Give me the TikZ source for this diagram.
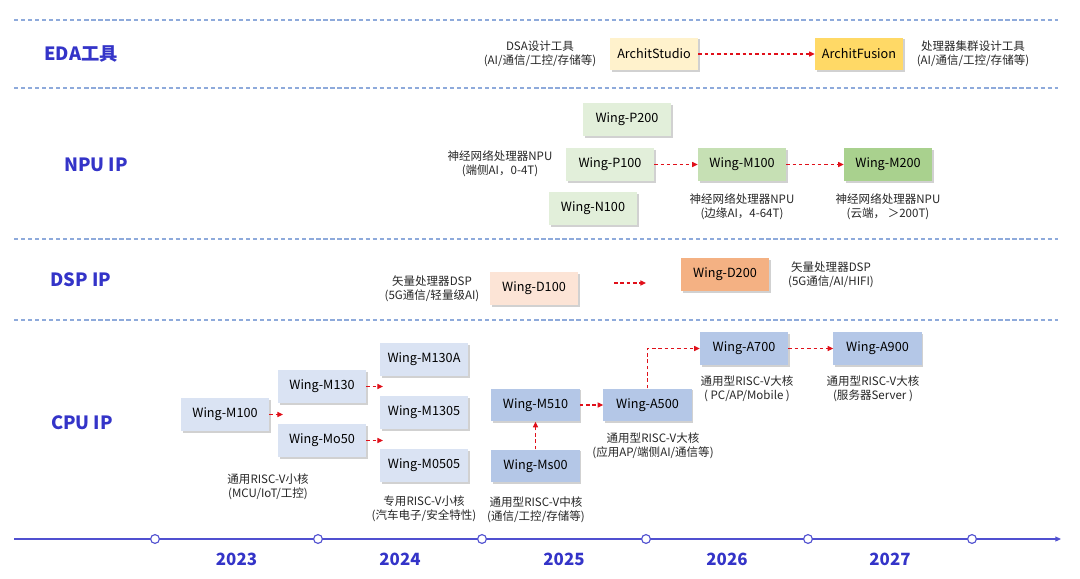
\documentclass[tikz,border=0pt]{standalone}
\usepackage{fontspec}
\setmainfont{Noto Sans CJK SC}
\usepackage{xcolor}
\usetikzlibrary{arrows.meta, positioning, shadows, calc}

\definecolor{lanetext}{HTML}{3434C8}
\definecolor{lanerule}{HTML}{8EAADB}
\definecolor{flowred}{HTML}{E0101A}
\definecolor{edaA}{HTML}{FFF2CC}
\definecolor{edaB}{HTML}{FFD966}
\definecolor{npuA}{HTML}{E2EFDA}
\definecolor{npuB}{HTML}{C6E0B4}
\definecolor{npuC}{HTML}{A9D18E}
\definecolor{dspA}{HTML}{FCE4D6}
\definecolor{dspB}{HTML}{F4B183}
\definecolor{cpuA}{HTML}{DAE3F3}
\definecolor{cpuB}{HTML}{B4C7E7}
\definecolor{axisblue}{HTML}{5050D0}

\begin{document}
\begin{tikzpicture}[
    x=0.025cm, y=-0.025cm,
    chip/.style={minimum width=2.2cm, minimum height=0.82cm, inner sep=0pt,
      font=\fontsize{9}{11}\selectfont,
      drop shadow={shadow xshift=1.2pt, shadow yshift=-1.2pt, fill=black!40, opacity=0.45}},
    flow/.style={-{Triangle[length=4pt, width=3.6pt]}, flowred, thick, dash pattern=on 2.5pt off 2pt},
    note/.style={font=\fontsize{8.2}{10}\selectfont, align=center, text=black!85, inner sep=0pt},
    lane/.style={font=\fontsize{13}{15}\selectfont\bfseries, text=lanetext},
    rule/.style={lanerule, thick, dash pattern=on 3pt off 2pt},
    tick/.style={circle, draw=axisblue, fill=white, thick, inner sep=0pt, minimum size=0.22cm},
    year/.style={font=\fontsize{12}{14}\selectfont\bfseries, text=lanetext}
]
  \useasboundingbox (0,0) rectangle (1080,579);

  % Lane separators
  \foreach \y in {20, 88, 239, 320}
    \draw[rule] (14,\y) -- (1058,\y);

  % Lane titles
  \node[lane] (eda) at (81,54) {EDA工具};
  \node[lane] (npu) at (96,165) {NPU IP};
  \node[lane] (dsp) at (81,280) {DSP IP};
  \node[lane] (cpu) at (82,423) {CPU IP};

  % EDA tools
  \node[chip, fill=edaA] (studio) at (654,54) {ArchitStudio};
  \node[chip, fill=edaB] (fusion) at (859,54) {ArchitFusion};
  \node[note] at (540,54) {DSA设计工具\\(AI/通信/工控/存储等)};
  \node[note] at (973,54) {处理器集群设计工具\\(AI/通信/工控/存储等)};
  \draw[flow] (studio) -- (fusion);

  % NPU IP
  \node[chip, fill=npuA] (p200) at (627,119.5) {Wing-P200};
  \node[chip, fill=npuA] (p100) at (610,164.5) {Wing-P100};
  \node[chip, fill=npuA] (n100) at (593,208.5) {Wing-N100};
  \node[chip, fill=npuB] (nm100) at (742,164.5) {Wing-M100};
  \node[chip, fill=npuC] (nm200) at (888,164.5) {Wing-M200};
  \draw[flow] (p100) -- (nm100);
  \draw[flow] (nm100) -- (nm200);
  \node[note] at (500,164) {神经网络处理器NPU\\(端侧AI，0-4T)};
  \node[note, below=0.3cm of nm100] {神经网络处理器NPU\\(边缘AI，4-64T)};
  \node[note, below=0.3cm of nm200] {神经网络处理器NPU\\(云端， ＞200T)};

  % DSP IP
  \node[chip, fill=dspA] (d100) at (534,288.5) {Wing-D100};
  \node[chip, fill=dspB] (d200) at (725,274.5) {Wing-D200};
  \coordinate (dspfrom) at (614,283);
  \coordinate (dspto) at (646,283);
  \draw[flow] (dspfrom) -- (dspto);
  \node[note] at (432,289) {矢量处理器DSP\\(5G通信/轻量级AI)};
  \node[note] at (831,275) {矢量处理器DSP\\(5G通信/AI/HIFI)};

  % CPU IP, small cores
  \node[chip, fill=cpuA] (m100) at (225,414.5) {Wing-M100};
  \node[chip, fill=cpuA] (m130) at (322,386.5) {Wing-M130};
  \node[chip, fill=cpuA] (mo50) at (322,440.5) {Wing-Mo50};
  \node[chip, fill=cpuA] (m130a) at (424,359.5) {Wing-M130A};
  \node[chip, fill=cpuA] (m1305) at (424,412.5) {Wing-M1305};
  \node[chip, fill=cpuA] (m0505) at (424,465.5) {Wing-M0505};
  \coordinate (gap1) at (283,414.5);
  \coordinate (gap2) at (383,386.5);
  \coordinate (gap3) at (383,440.5);
  \draw[flow] (m100) -- (gap1);
  \draw[flow] (m130) -- (gap2);
  \draw[flow] (mo50) -- (gap3);
  \node[note] at (268,486.5) {通用RISC-V小核\\(MCU/IoT/工控)};
  \node[note] at (424,509) {专用RISC-V小核\\(汽车电子/安全特性)};

  % CPU IP, mid and big cores
  \node[chip, fill=cpuB] (m510) at (535.5,405) {Wing-M510};
  \node[chip, fill=cpuB] (ms00) at (535.5,466) {Wing-Ms00};
  \node[chip, fill=cpuB] (a500) at (647.5,405) {Wing-A500};
  \node[chip, fill=cpuB] (a700) at (744,348.5) {Wing-A700};
  \node[chip, fill=cpuB] (a900) at (877.5,348.5) {Wing-A900};
  \draw[flow] (ms00) -- (m510);
  \draw[flow] (m510) -- (a500);
  \draw[flow] (a500.north) |- (a700.west);
  \draw[flow] (a700) -- (a900);
  \node[note] at (536,510) {通用型RISC-V中核\\(通信/工控/存储等)};
  \node[note] at (653,445.5) {通用型RISC-V大核\\(应用AP/端侧AI/通信等)};
  \node[note] at (747,388.5) {通用型RISC-V大核\\( PC/AP/Mobile )};
  \node[note] at (873,388.5) {通用型RISC-V大核\\(服务器Server )};

  % Timeline
  \coordinate (axisstart) at (14,539);
  \coordinate (axisend) at (1061,539);
  \draw[axisblue, thick, -{Triangle[length=4pt, width=3.5pt]}] (axisstart) -- (axisend);
  \foreach \x [count=\i] in {155, 318, 482, 646, 808, 972}
    \node[tick] (t\i) at (\x,539) {};
  \foreach \yr [count=\i] in {2023, 2024, 2025, 2026, 2027}
    \node[year] at ($(t\i)!0.5!(t\the\numexpr\i+1\relax)+(0,20)$) {\yr};
\end{tikzpicture}
\end{document}
